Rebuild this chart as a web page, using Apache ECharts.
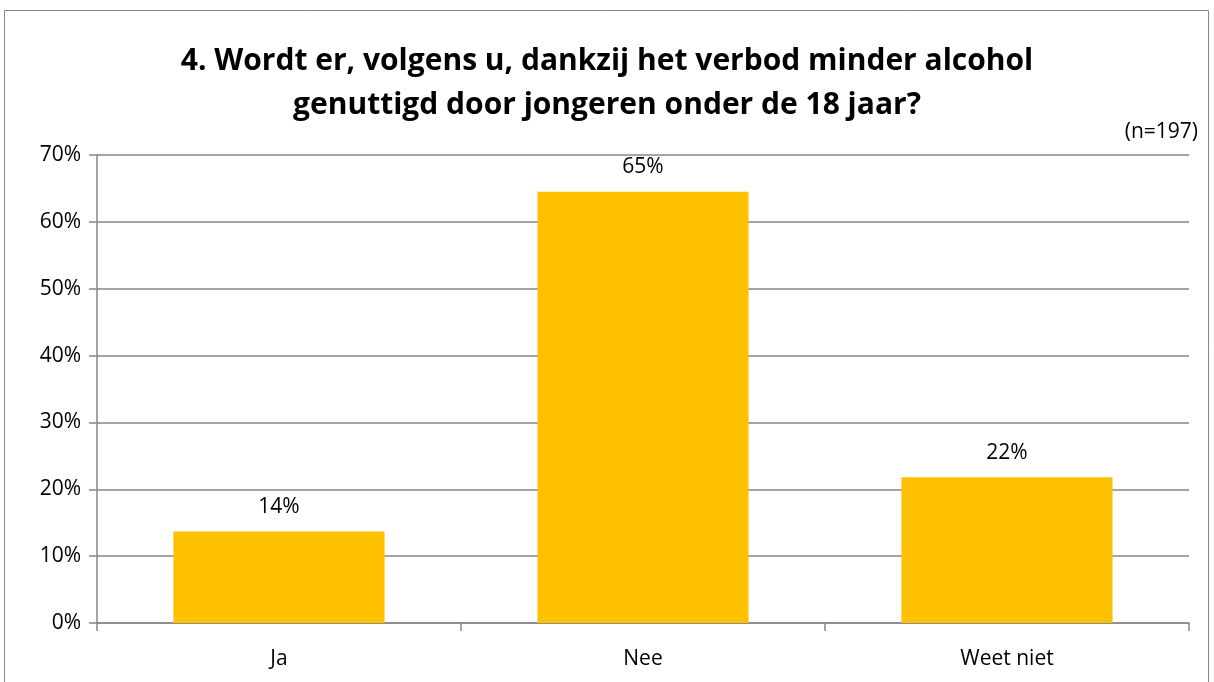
<!DOCTYPE html>
<html>
<head>
<meta charset="utf-8">
<script src="https://cdn.jsdelivr.net/npm/echarts@6/dist/echarts.min.js"></script>
<style>
  html, body { margin: 0; padding: 0; background: #fff; }
  #main { width: 1214px; height: 682px; }
</style>
</head>
<body>
<div id="main"></div>
<script>
// gegevens
var categories = ['Ja', 'Nee', 'Weet niet'];
var values = [13.7, 64.5, 21.8];
var titleLines = ['4. Wordt er, volgens u, dankzij het verbod minder alcohol', 'genuttigd door jongeren onder de 18 jaar?'];
var note = '(n=197)';

var chart = echarts.init(document.getElementById('main'));
var font = 'Open Sans, Noto Sans, sans-serif';

var option = {
  backgroundColor: '#fff',
  animation: false,
  title: {
    text: titleLines.join('\n'),
    left: 'center',
    top: 34,
    textStyle: { fontFamily: font, fontSize: 30, fontWeight: 'bold', color: '#000', lineHeight: 44 }
  },
  graphic: [
    { type: 'rect', shape: { x: 4.5, y: 10.5, width: 1204, height: 675 }, style: { fill: 'none', stroke: '#868686', lineWidth: 1 } },
    { type: 'text', right: 16, top: 122, style: { text: note, font: '21px ' + font, fill: '#000' } }
  ],
  grid: { left: 97, right: 25, top: 155, bottom: 59 },
  xAxis: {
    type: 'category',
    data: categories,
    axisLine: { lineStyle: { color: '#868686', width: 1.5 } },
    axisTick: { show: true, length: 8, lineStyle: { color: '#868686', width: 1.5 } },
    axisLabel: { fontFamily: font, fontSize: 21, color: '#000', margin: 26 }
  },
  yAxis: {
    type: 'value',
    min: 0, max: 70, interval: 10,
    axisLine: { show: true, lineStyle: { color: '#868686', width: 1.5 } },
    axisTick: { show: true, length: 8, lineStyle: { color: '#868686', width: 1.5 } },
    splitLine: { lineStyle: { color: '#868686', width: 1.5 } },
    axisLabel: { formatter: '{value}%', fontFamily: font, fontSize: 21, color: '#000', margin: 16 }
  },
  series: [{
    type: 'bar',
    data: values,
    barWidth: '58%',
    itemStyle: { color: '#FFC000' },
    label: {
      show: true, position: 'top', distance: 14,
      formatter: function (p) { return Math.round(p.value) + '%'; },
      fontFamily: font, fontSize: 21, color: '#000'
    }
  }]
};

chart.setOption(option);
</script>
</body>
</html>
